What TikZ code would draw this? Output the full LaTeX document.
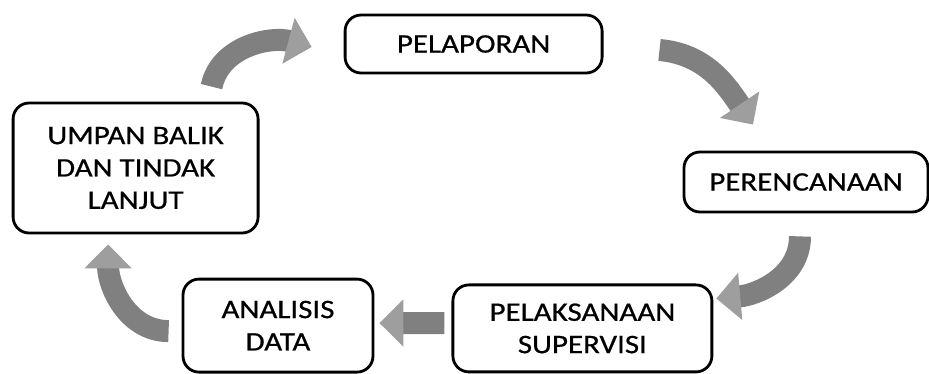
\documentclass[tikz,border=0pt]{standalone}
\usepackage{fontspec}
\setmainfont{Carlito}[FakeStretch=1.16,FakeBold=0.6]
\usepackage{tikz}
\usetikzlibrary{arrows.meta}
\tikzset{
	kotak/.style={draw, line width=2pt, rounded corners=0.4cm, align=center, inner sep=0pt, font=\fontsize{19}{23}\selectfont},
	panah/.style={draw=black!50, line width=0.55cm, -{Triangle[length=0.6cm,width=1.15cm,color=black!38,fill=black!38]}}
}
\begin{document}
\begin{tikzpicture}
		\useasboundingbox (0,0) rectangle (23.225,-9.35);
		\node[kotak, minimum width=6.425cm, minimum height=1.45cm] at (11.84,-1.1) (pelaporan) {PELAPORAN};
		\node[kotak, minimum width=6.1cm, minimum height=1.5cm] at (20.15,-4.55) (perencanaan) {PERENCANAAN};
		\node[kotak, minimum width=6.475cm, minimum height=2.175cm] at (14.56,-8.21) (pelaksanaan) {PELAKSANAAN\\SUPERVISI};
		\node[kotak, minimum width=4.75cm, minimum height=2.325cm] at (6.95,-8.14) (analisis) {ANALISIS\\DATA};
		\node[kotak, minimum width=6.125cm, minimum height=3.25cm] at (3.39,-4.2) (umpan) {UMPAN BALIK\\DAN TINDAK\\LANJUT};
		\draw[panah] ([shift={(-1.2,0.375)}]umpan.north east) to[out=78,in=165] ([shift={(-0.8,-0.075)}]pelaporan.west);
		\draw[panah] ([shift={(1.4,-0.15)}]pelaporan.east) to[out=-5,in=124] ([shift={(-1.325,0.65)}]perencanaan.north);
		\draw[panah] ([shift={(-0.15,-0.575)}]perencanaan.south) to[out=-90,in=5] ([shift={(0.075,-0.375)}]pelaksanaan.north east);
		\draw[panah] ([shift={(-0.175,0.135)}]pelaksanaan.west) -- ([shift={(0.125,0.065)}]analisis.east);
		\draw[panah] ([shift={(-0.325,-0.1375)}]analisis.west) to[out=180,in=-90] ([shift={(-0.6875,-0.25)}]umpan.south);
	\end{tikzpicture}
\end{document}
